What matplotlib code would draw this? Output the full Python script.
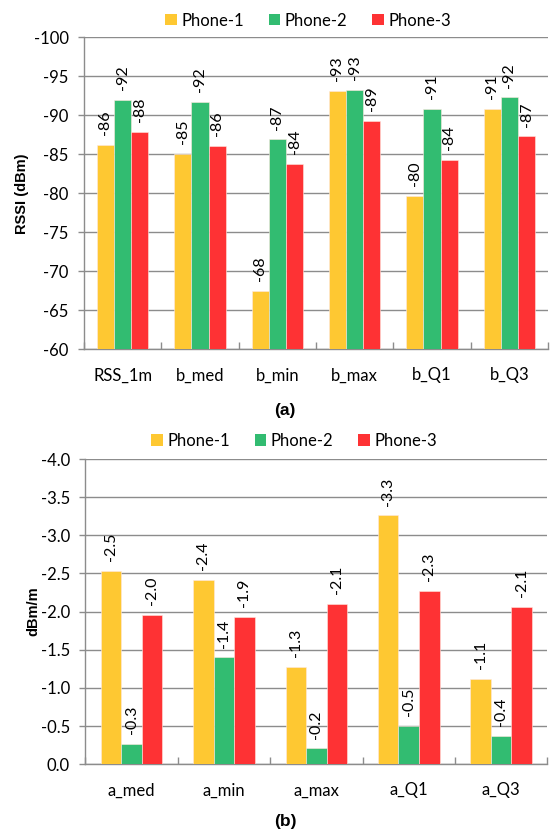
import numpy as np
import matplotlib
matplotlib.use("Agg")
import matplotlib.pyplot as plt
from matplotlib.patches import Patch

plt.rcParams['font.family'] = ['Lato', 'DejaVu Sans']

phones = ["Phone-1", "Phone-2", "Phone-3"]
colors = ["#FEC832", "#32BC71", "#FE3234"]

# Panel (a): RSSI parameters (dBm)
cats_a = ["RSS_1m", "b_med", "b_min", "b_max", "b_Q1", "b_Q3"]
phone1_a = [-86.2, -85.1, -67.5, -93.1, -79.7, -90.8]
phone2_a = [-92.0, -91.7, -86.9, -93.3, -90.8, -92.3]
phone3_a = [-87.9, -86.1, -83.8, -89.3, -84.3, -87.3]
yticks_a = [-60, -65, -70, -75, -80, -85, -90, -95, -100]

# Panel (b): path-loss slopes (dBm/m)
cats_b = ["a_med", "a_min", "a_max", "a_Q1", "a_Q3"]
phone1_b = [-2.53, -2.42, -1.28, -3.26, -1.12]
phone2_b = [-0.27, -1.40, -0.21, -0.50, -0.37]
phone3_b = [-1.96, -1.93, -2.10, -2.27, -2.06]
yticks_b = [0.0, -0.5, -1.0, -1.5, -2.0, -2.5, -3.0, -3.5, -4.0]

fig = plt.figure(figsize=(5.51, 8.30), dpi=100)
ax1 = fig.add_axes([84/551, 1 - 349.3/830, 464/551, (349.3 - 37.3)/830])
ax2 = fig.add_axes([85.3/551, 1 - 764.3/830, 462/551, (764.3 - 459)/830])

grid_col = "#8C8C8C"
bw = 1 / 4.5


def draw(ax, cats, series, base, top, yticks, fmt, ylabel, ylabel_x, caption, cap_y, leg_x, leg_y):
    x = np.arange(len(cats))
    for i, (vals, col) in enumerate(zip(series, colors)):
        vals = np.asarray(vals)
        pos = x + (i - 1) * bw
        ax.bar(pos, vals - base, bottom=base, width=bw, color=col,
               edgecolor="#FFE8E0", linewidth=0.4, zorder=3)
        for px, v in zip(pos, vals):
            ax.annotate(fmt.format(v), (px, v), xytext=(0, 7),
                        textcoords="offset points", rotation=90,
                        ha="center", va="bottom", fontsize=11.5, color="black")
    ax.set_ylim(base, top)
    ax.set_yticks(yticks)
    ax.set_yticklabels([("{:.1f}" if isinstance(t, float) else "{}").format(t) for t in yticks])
    ax.set_xlim(-0.5, len(cats) - 0.5)
    ax.set_xticks(np.arange(len(cats) + 1) - 0.5)
    ax.set_xticklabels([])
    ax.set_xticks(x, minor=True)
    ax.set_xticklabels(cats, minor=True)
    ax.tick_params(axis="x", which="major", direction="in", length=5, color=grid_col, width=1)
    ax.tick_params(axis="x", which="minor", length=0, pad=13, labelsize=12)
    ax.tick_params(axis="y", direction="out", length=4, color=grid_col, width=1, pad=7, labelsize=12)
    ax.grid(axis="y", color=grid_col, linewidth=1, zorder=0)
    for s in ["top", "right"]:
        ax.spines[s].set_visible(False)
    for s in ["left", "bottom"]:
        ax.spines[s].set_color(grid_col)
        ax.spines[s].set_linewidth(1)
    fig.text(ylabel_x, ax.get_position().y0 + ax.get_position().height / 2, ylabel,
             rotation=90, ha="center", va="center", fontsize=10.5,
             fontweight="bold", family="Liberation Sans")
    fig.text(285/551, 1 - cap_y/830, caption, ha="center", va="center",
             fontsize=12.5, fontweight="bold", family="Liberation Sans")
    handles = [Patch(facecolor=c, edgecolor="none", label=p) for p, c in zip(phones, colors)]
    fig.legend(handles=handles, loc="center", bbox_to_anchor=(leg_x, leg_y), ncol=3,
               frameon=False, fontsize=12, handlelength=0.7, handleheight=0.7,
               handletextpad=0.25, columnspacing=1.5)


draw(ax1, cats_a, [phone1_a, phone2_a, phone3_a], -60, -100, yticks_a, "{:.0f}",
     "RSSI (dBm)", 22/551, "(a)", 410, 308/551, 1 - 20.5/830)
draw(ax2, cats_b, [phone1_b, phone2_b, phone3_b], 0.0, -4.0, yticks_b, "{:.1f}",
     "dBm/m", 33/551, "(b)", 821.7, 294/551, 1 - 441/830)

fig.savefig("out.png", dpi=100)
